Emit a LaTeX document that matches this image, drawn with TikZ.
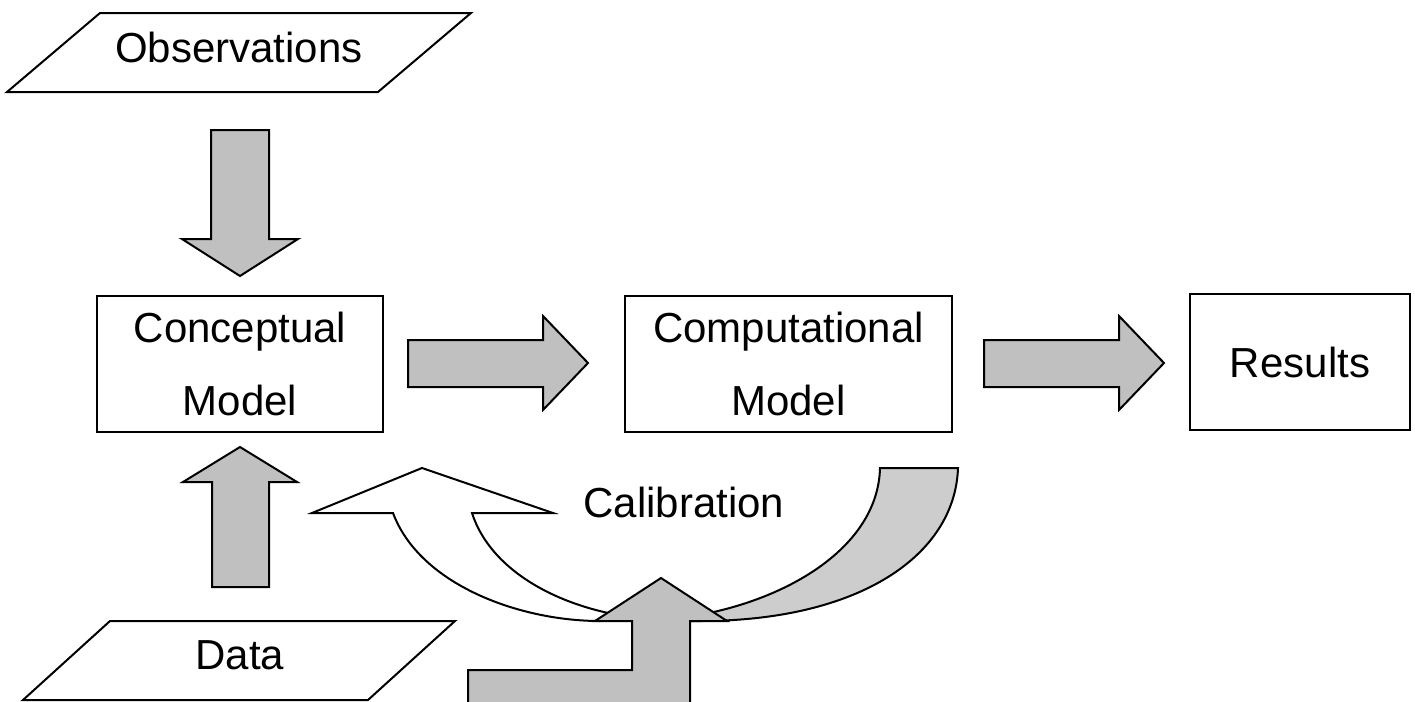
\documentclass[tikz,border=0pt]{standalone}
\usepackage{fontspec}
\setmainfont{Liberation Sans}
\definecolor{arrowgray}{HTML}{C0C0C0}
\definecolor{tailgray}{HTML}{CDCDCD}

\begin{document}
\begin{tikzpicture}[x=0.5pt, y=-0.5pt, line width=1pt,
	box/.style={draw, minimum height=68pt, inner sep=0pt, outer sep=0pt,
		font=\fontsize{21}{36.5}\selectfont, align=center},
	txt/.style={font=\fontsize{21}{36.5}\selectfont, inner sep=0pt},
	blockarrow/.style={draw, fill=arrowgray}]
	\clip (0,0) rectangle (1415,702);
	% input parallelograms
	\draw (100,13) -- (471,13) -- (378,92) -- (7,92) -- cycle;
	\node[txt] (obs) at (239,47.5) {Observations};
	\draw (110,621) -- (455,621) -- (368,700) -- (23,700) -- cycle;
	\node[txt] (data) at (240,655.5) {Data};
	% model boxes
	\node[box, minimum width=143pt] (concept) at (240,364) {Conceptual\\Model};
	\node[box, minimum width=163.5pt] (comp) at (788.5,364) {Computational\\Model};
	\node[box, minimum width=110pt] (results) at (1300,362) {Results};
	% straight block arrows
	\draw[blockarrow] (211,130) -- (269,130) -- (269,239) -- (298,239)
		-- (240,276) -- (182,239) -- (211,239) -- cycle;
	\draw[blockarrow] (212,587) -- (212,482) -- (183,482) -- (240,447)
		-- (297,482) -- (269,482) -- (269,587) -- cycle;
	\foreach \dx in {0,576} {
		\draw[blockarrow, shift={(\dx,0)}] (408,340) -- (543,340) -- (543,316)
			-- (588,363) -- (543,410) -- (543,387) -- (408,387) -- cycle;
	}
	% calibration loop, head part
	\draw[fill=white] (600,621) .. controls (520,621) and (420,585) .. (393,513)
		-- (312,513) -- (422,468) -- (553,513) -- (472,513)
		.. controls (492,575) and (570,615) .. (660,620) -- cycle;
	% calibration loop, tail part
	\draw[fill=tailgray] (650,621) -- (700,621) .. controls (860,621) and (955,555) .. (958,468)
		-- (880,468) .. controls (878,550) and (780,605) .. (680,618) -- cycle;
	\node[txt] (calib) at (684,502) {Calibration};
	% bent arrow into the loop
	\draw[blockarrow] (468,740) -- (468,670) -- (632,670) -- (632,621) -- (595,621)
		-- (661,578) -- (727,621) -- (690,621) -- (690,740) -- cycle;
\end{tikzpicture}
\end{document}
